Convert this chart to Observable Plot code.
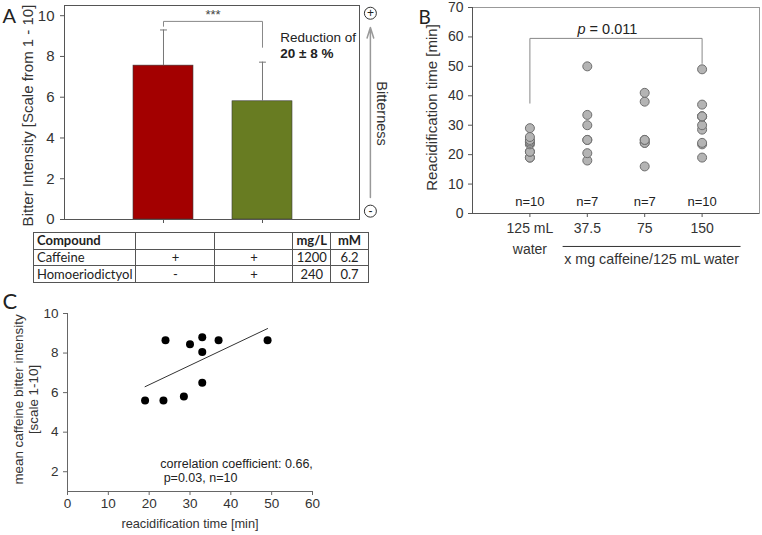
<!DOCTYPE html>
<html><head><meta charset="utf-8">
<script src="https://cdn.jsdelivr.net/npm/d3@7"></script>
<script src="https://cdn.jsdelivr.net/npm/@observablehq/plot@0.6"></script>
<style>
body{margin:0;background:#fff;}
#wrap{position:relative;width:762px;height:535px;overflow:hidden;background:#fff;}
.panel{position:absolute;}
.panel svg{max-width:none;}
table{position:absolute;left:33px;top:232px;border-collapse:collapse;font-family:Lato,"Open Sans",sans-serif;font-size:13px;color:#222;table-layout:fixed;}
td{border:1px solid #555;padding:0 3px;height:15.7px;line-height:15px;white-space:nowrap;}
</style>
</head><body><div id="wrap"></div>
<script>
// ---------- Panel A data ----------
const samplesA = ["Caffeine", "Caffeine + Homoeriodictyol"];
const samplePosA = [1, 2];
const meanA = [7.55, 5.8];
const sdA = [1.75, 1.92];
const colorA = ["#a30000", "#687c22"];
const ticksA = [0, 2, 4, 6, 8, 10];

// ---------- Table data ----------
const tableHeader = ["Compound", "", "", "mg/L", "mM"];
const tableRows = [
  ["Caffeine", "+", "+", "1200", "6.2"],
  ["Homoeriodictyol", "-", "+", "240", "0.7"]
];

// ---------- Panel B data ----------
const groupsB = ["125 mL\nwater", "37.5", "75", "150"];
const groupPosB = [1, 2, 3, 4];
const timesB = [
  [19, 19, 21, 21, 23.5, 24, 24.5, 25, 26, 29],
  [18, 20.5, 25, 25, 30, 33.5, 50],
  [16, 24, 24, 25, 25, 38, 41],
  [19, 23.5, 24, 28.5, 30, 33, 33, 33, 37, 49]
];
const nLabelsB = ["n=10", "n=7", "n=7", "n=10"];
const ticksB = [0, 10, 20, 30, 40, 50, 60, 70];

// ---------- Panel C data ----------
const timeC = [19, 23.5, 24, 28.5, 30, 33, 33, 33, 37, 49];
const bitterC = [5.6, 5.6, 8.65, 5.8, 8.45, 8.8, 8.05, 6.5, 8.65, 8.65];
const ticksCx = [0, 10, 20, 30, 40, 50, 60];
const ticksCy = [2, 4, 6, 8, 10];

const FONT = "'Liberation Sans', Arial, sans-serif";
const LETTER = "Lato, 'Open Sans', sans-serif";
const wrap = document.getElementById("wrap");
function place(node, left, top) {
  const d = document.createElement("div");
  d.className = "panel";
  d.style.left = left + "px"; d.style.top = top + "px";
  d.appendChild(node); wrap.appendChild(d);
}

// ---------- Panel A ----------
const barsA = samplePosA.map((p, i) => ({p, name: samplesA[i], mean: meanA[i], sd: sdA[i], color: colorA[i]}));
const plotA = Plot.plot({
  width: 400, height: 232,
  marginLeft: 64, marginRight: 41, marginTop: 5, marginBottom: 13,
  style: {fontFamily: FONT, color: "#333", background: "white"},
  x: {domain: [0, 2.98]},
  y: {domain: [0, 10.5]},
  color: {type: "identity"},
  marks: [
    Plot.rectY(barsA, {x1: d => d.p - 0.303, x2: d => d.p + 0.303, y: "mean", fill: "color", stroke: "#3a3a3a", strokeWidth: 0.6}),
    Plot.ruleX(barsA, {x: "p", y1: "mean", y2: d => d.mean + d.sd, stroke: "#777"}),
    Plot.link(barsA, {x1: d => d.p - 0.035, x2: d => d.p + 0.035, y1: d => d.mean + d.sd, y2: d => d.mean + d.sd, stroke: "#777"}),
    Plot.line([[1, 9.48], [1, 9.72], [2, 9.72], [2, 8.45]], {stroke: "#888", strokeWidth: 1}),
    Plot.text(["***"], {x: 1.5, y: 9.72, dy: -7, fontSize: 13, fill: "#444"}),
    Plot.text(["Reduction of"], {x: 2.18, y: 8.93, textAnchor: "start", fontSize: 13.5, fill: "#222"}),
    Plot.text(["20 ± 8 %"], {x: 2.18, y: 8.14, textAnchor: "start", fontSize: 13.5, fontWeight: "bold", fill: "#222"}),
    Plot.frame({stroke: "#555"}),
    Plot.axisY({ticks: ticksA, tickSize: 4, tickPadding: 6, fontSize: 15, label: null, stroke: "#555"}),
    Plot.axisX({ticks: samplePosA, tickFormat: () => "", tickSize: 4, label: null, stroke: "#555"}),
    Plot.text(["Bitter Intensity [Scale from 1 - 10]"], {frameAnchor: "left", textAnchor: "middle", lineAnchor: "middle", dx: -36, dy: 3, rotate: -90, fontSize: 15, fill: "#333"}),
    // bitterness scale on the right
    Plot.arrow([0], {x1: 3.09, x2: 3.09, y1: 1.08, y2: 9.42, stroke: "#999", strokeWidth: 1.5, headLength: 11, headAngle: 35}),
    Plot.dot([10.12, 0.41], {x: 3.09, y: d => d, r: 6, stroke: "#333", fill: "white", strokeWidth: 1}),
    Plot.text(["+", "-"], {x: 3.09, y: (d, i) => [10.12, 0.41][i], fontSize: 12, fill: "#222"}),
    Plot.text(["Bitterness"], {x: 3.2, y: 5.2, rotate: 90, fontSize: 14.5, fill: "#333"}),
    Plot.text(["A"], {frameAnchor: "top-left", dx: -62, dy: 3, lineAnchor: "top", textAnchor: "start", fontSize: 20, fontFamily: LETTER, fill: "#222"})
  ]
});
place(plotA, 0, 0);

// ---------- Table ----------
const table = document.createElement("table");
const colW = [100, 79, 78, 35, 38];
const cg = document.createElement("colgroup");
colW.forEach(w => { const c = document.createElement("col"); c.style.width = w + "px"; cg.appendChild(c); });
table.appendChild(cg);
[tableHeader, ...tableRows].forEach((row, r) => {
  const tr = document.createElement("tr");
  row.forEach((cell, c) => {
    const td = document.createElement("td");
    td.textContent = cell;
    td.style.textAlign = c === 0 ? "left" : "center";
    if (r === 0) td.style.fontWeight = "bold";
    tr.appendChild(td);
  });
  table.appendChild(tr);
});
wrap.appendChild(table);

// ---------- Panel B ----------
const recordsB = timesB.flatMap((arr, i) => arr.map(t => ({g: groupPosB[i], t})));
const plotB = Plot.plot({
  width: 362, height: 275,
  marginLeft: 72, marginRight: 3, marginTop: 7, marginBottom: 62,
  style: {fontFamily: FONT, color: "#333", background: "white"},
  x: {domain: [0, 5]},
  y: {domain: [0, 70]},
  marks: [
    Plot.frame({stroke: "#999"}),
    Plot.ruleX([0], {stroke: "#555"}),
    Plot.ruleY([0], {stroke: "#555"}),
    Plot.axisY({ticks: ticksB, tickSize: 4, tickPadding: 5, fontSize: 14, label: null, stroke: "#555"}),
    Plot.axisX({ticks: groupPosB, tickFormat: d => groupsB[groupPosB.indexOf(d)], tickSize: 4, tickPadding: 1, fontSize: 14, lineHeight: 1.5, label: null, stroke: "#555"}),
    Plot.text(["Reacidification time [min]"], {frameAnchor: "left", textAnchor: "middle", lineAnchor: "middle", dx: -40, dy: -3, rotate: -90, fontSize: 15, fill: "#333"}),
    Plot.line([[1, 37.5], [1, 59.5], [4, 59.5], [4, 51]], {stroke: "#888", strokeWidth: 1}),
    Plot.text(["p"], {x: 1.97, y: 62.6, textAnchor: "end", fontStyle: "italic", fontSize: 14.5, fill: "#222"}),
    Plot.text(["= 0.011"], {x: 1.97, y: 62.6, dx: 4, textAnchor: "start", fontSize: 14.5, fill: "#222"}),
    Plot.dot(recordsB, {x: "g", y: "t", r: 4.5, fill: "#b4b4b4", stroke: "#6e6e6e", strokeWidth: 1}),
    Plot.text(nLabelsB, {x: (d, i) => groupPosB[i], y: 3.9, fontSize: 13, fill: "#222"}),
    Plot.link([0], {x1: 1.57, x2: 4.67, y1: -11.2, y2: -11.2, stroke: "#333"}),
    Plot.text(["x mg caffeine/125 mL water"], {x: 3.12, y: -15.6, fontSize: 14.3, fill: "#333"}),
    Plot.text(["B"], {frameAnchor: "top-left", dx: -54, dy: 3, lineAnchor: "top", textAnchor: "start", fontSize: 19, fontFamily: LETTER, fill: "#222"})
  ]
});
place(plotB, 400, 0);

// ---------- Panel C ----------
const plotC = Plot.plot({
  width: 380, height: 250,
  marginLeft: 67, marginRight: 68, marginTop: 28, marginBottom: 44,
  style: {fontFamily: FONT, color: "#333", background: "white"},
  x: {domain: [0, 60]},
  y: {domain: [1, 10]},
  marks: [
    Plot.ruleX([0], {stroke: "#666"}),
    Plot.ruleY([1], {stroke: "#666"}),
    Plot.axisY({ticks: ticksCy, tickSize: 4, tickPadding: 5, fontSize: 13.5, label: null, stroke: "#666"}),
    Plot.axisX({ticks: ticksCx, tickSize: 4, tickPadding: 3, fontSize: 13.5, label: null, stroke: "#666"}),
    Plot.linearRegressionY({length: timeC.length}, {x: timeC, y: bitterC, ci: 0, stroke: "#333", strokeWidth: 1}),
    Plot.dot({length: timeC.length}, {x: timeC, y: bitterC, r: 4, fill: "black"}),
    Plot.text(["correlation coefficient: 0.66,\n\u00a0p=0.03, n=10"], {x: 22.7, y: 2.07, textAnchor: "start", lineHeight: 1.12, fontSize: 12.5, fill: "#222"}),
    Plot.text(["mean caffeine bitter intensity\n[scale 1-10]"], {frameAnchor: "left", textAnchor: "middle", lineAnchor: "middle", dx: -41.5, dy: -3, rotate: -90, lineHeight: 1.12, fontSize: 13.4, fill: "#333"}),
    Plot.text(["reacidification time [min]"], {frameAnchor: "bottom", dy: 36, fontSize: 12.8, fill: "#333"}),
    Plot.text(["C"], {frameAnchor: "top-left", dx: -65, dy: -20, lineAnchor: "top", textAnchor: "start", fontSize: 22, fontFamily: LETTER, fill: "#222"})
  ]
});
place(plotC, 0, 285);
</script>
</body></html>
